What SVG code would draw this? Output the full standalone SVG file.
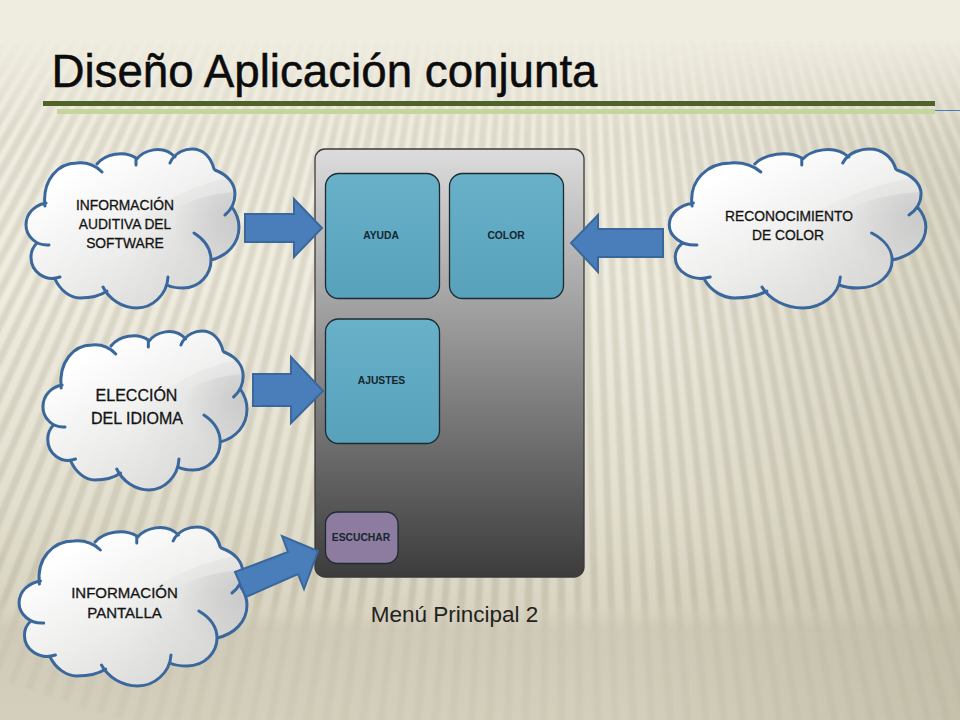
<svg xmlns="http://www.w3.org/2000/svg" width="960" height="720" viewBox="0 0 960 720">
<style>
text{font-family:"Liberation Sans",Arial,sans-serif;text-anchor:middle}
.ct{fill:#141414;font-size:13.800px;stroke:#141414;stroke-width:.3}
.bt{fill:#14262e;font-size:10.300px;font-weight:bold}
.btn{stroke:#1c2c33;stroke-width:1.3}
.arr{fill:#4a7ebb;stroke:#3a679c;stroke-width:2;stroke-linejoin:miter}
.co{fill:none;stroke:#3a679c;stroke-width:3;stroke-linecap:round;vector-effect:non-scaling-stroke}
</style>
<defs>
<linearGradient id="bg" gradientUnits="userSpaceOnUse" x1="0" y1="0" x2="0" y2="720">
<stop offset="0" stop-color="#efece0"/><stop offset=".4" stop-color="#efece0"/><stop offset=".7" stop-color="#e3dfcf"/><stop offset=".85" stop-color="#d8d4c1"/><stop offset=".875" stop-color="#d0cbb8"/><stop offset="1" stop-color="#d3cfbc"/>
</linearGradient>
<linearGradient id="side" x1="0" y1="0" x2="1" y2="0">
<stop offset="0" stop-color="#a8a288" stop-opacity="0"/><stop offset="1" stop-color="#a8a288" stop-opacity=".3"/>
</linearGradient>
<linearGradient id="fadeTop" x1="0" y1="0" x2="0" y2="1">
<stop offset="0" stop-color="#fff" stop-opacity="0"/><stop offset=".2" stop-color="#fff" stop-opacity="1"/>
</linearGradient>
<mask id="sideMask" maskUnits="userSpaceOnUse" x="0" y="40" width="960" height="680"><rect x="0" y="40" width="960" height="680" fill="url(#fadeTop)"/></mask>
<filter id="soft" filterUnits="userSpaceOnUse" x="0" y="0" width="960" height="720"><feGaussianBlur stdDeviation="1"/></filter>
<linearGradient id="stripe" gradientUnits="userSpaceOnUse" x1="0" y1="40" x2="0" y2="720">
<stop offset="0" stop-color="#8a8468" stop-opacity="0"/><stop offset=".14" stop-color="#8a8468" stop-opacity=".18"/><stop offset=".82" stop-color="#8a8468" stop-opacity=".2"/><stop offset=".87" stop-color="#8a8468" stop-opacity=".06"/><stop offset="1" stop-color="#8a8468" stop-opacity=".07"/>
</linearGradient>
<linearGradient id="panel" x1="0" y1="0" x2="0" y2="1">
<stop offset="0" stop-color="#dcdcdc"/><stop offset="1" stop-color="#3c3c3c"/>
</linearGradient>
<linearGradient id="teal" x1="0" y1="0" x2="0" y2="1">
<stop offset="0" stop-color="#69b1c9"/><stop offset="1" stop-color="#57a1bb"/>
</linearGradient>
<linearGradient id="cfill" x1="0" y1="0" x2=".8" y2="1">
<stop offset=".2" stop-color="#ffffff"/><stop offset=".6" stop-color="#eeeeee" stop-opacity=".95"/><stop offset="1" stop-color="#d6d6d6" stop-opacity=".92"/>
</linearGradient>
<radialGradient id="gloss" gradientUnits="userSpaceOnUse" cx="232" cy="215" r="60">
<stop offset="0" stop-color="#bdbdbd" stop-opacity=".55"/><stop offset="1" stop-color="#bdbdbd" stop-opacity="0"/>
</radialGradient>
<radialGradient id="gloss2" gradientUnits="userSpaceOnUse" cx="235" cy="225" r="115">
<stop offset="0" stop-color="#c8c8c8" stop-opacity=".35"/><stop offset="1" stop-color="#c8c8c8" stop-opacity="0"/>
</radialGradient>
<clipPath id="cclip"><path d="M45 206C42 180 58 163 77 163C87 162 96 166 102 172L97 164C105 154 124 150 136 158L136 160C143 150 163 144 175 157L170 163C175 151 187 149 192 149C203 149 211 157 214 169L215 170C228 175 235 184 235 194C235 203 231 210 225 215L232 207C237 214 239 220 239 227C239 244 227 256 211 260L194 233C205 240 211 250 211 260C211 274 200 288 183 288C177 288 171 287 167 285L168 277C167 295 152 308 137 308C122 308 109 299 103 287L107 291C100 296 90 298 80 298C70 298 60 290 55 279L60 277C45 282 31 272 31 257C31 251 33 247 37 243L49 245C36 246 26 236 26 225C26 213 35 205 46 203Z"/></clipPath>
<g id="cloud">
<path fill="url(#cfill)" d="M45 206C42 180 58 163 77 163C87 162 96 166 102 172L97 164C105 154 124 150 136 158L136 160C143 150 163 144 175 157L170 163C175 151 187 149 192 149C203 149 211 157 214 169L215 170C228 175 235 184 235 194C235 203 231 210 225 215L232 207C237 214 239 220 239 227C239 244 227 256 211 260L194 233C205 240 211 250 211 260C211 274 200 288 183 288C177 288 171 287 167 285L168 277C167 295 152 308 137 308C122 308 109 299 103 287L107 291C100 296 90 298 80 298C70 298 60 290 55 279L60 277C45 282 31 272 31 257C31 251 33 247 37 243L49 245C36 246 26 236 26 225C26 213 35 205 46 203Z"/>
<g clip-path="url(#cclip)">
<path fill="url(#gloss2)" d="M110 240C150 205 200 180 242 176V310H110Z"/>
<path fill="url(#gloss)" d="M150 230C175 200 215 192 242 192V300H150Z"/>
</g>
<path class="co" d="M45 206C42 180 58 163 77 163C87 162 96 166 102 172M97 164C105 154 124 150 136 158V165M136 160C143 150 163 144 175 157M170 163C175 151 187 149 192 149C203 149 211 157 214 169M215 170C228 175 235 184 235 194C235 203 231 210 225 215M232 207C237 214 239 220 239 227C239 244 227 256 211 260M194 233C205 240 211 250 211 260C211 274 200 288 183 288C177 288 171 287 167 285M168 277C167 295 152 308 137 308C122 308 109 299 103 287M107 291C100 296 90 298 80 298C70 298 60 290 55 279M60 277C45 282 31 272 31 257C31 251 33 247 37 243M49 245C36 246 26 236 26 225C26 213 35 205 46 203"/>
</g>
</defs>

<g id="background">
<rect width="960" height="720" fill="url(#bg)"/>
<g mask="url(#sideMask)"><rect x="640" y="40" width="320" height="680" fill="url(#side)"/></g>
<clipPath id="below"><rect x="0" y="40" width="960" height="680"/></clipPath>
<g clip-path="url(#below)">
<circle cx="560" cy="-820" r="1200" fill="none" stroke="url(#stripe)" stroke-width="800" stroke-dasharray="7 7.03" filter="url(#soft)"/>
</g>
</g>

<g id="title">
<text x="324.500" y="87" font-size="45.700" fill="#0c0c0c" stroke="#0c0c0c" stroke-width=".5">Diseño Aplicación conjunta</text>
<rect x="43" y="101" width="892" height="5" fill="#4f6228"/>
<rect x="57" y="109" width="878" height="5" fill="#c3d69b"/>
<rect x="935" y="110" width="25" height="1" fill="#4a7ebb"/>
</g>

<g id="panel-menu">
<rect x="315" y="149" width="269" height="428" rx="10" fill="url(#panel)" stroke="#3a3a3a" stroke-width="1.3"/>
</g>
<g id="btn-ayuda">
<rect class="btn" x="325.500" y="173.500" width="114" height="125" rx="13" fill="url(#teal)"/>
<text class="bt" x="381" y="238.500">AYUDA</text>
</g>
<g id="btn-color">
<rect class="btn" x="449.500" y="173.500" width="114" height="125" rx="13" fill="url(#teal)"/>
<text class="bt" x="506" y="238.500">COLOR</text>
</g>
<g id="btn-ajustes">
<rect class="btn" x="325.500" y="319" width="114" height="124.500" rx="13" fill="url(#teal)"/>
<text class="bt" x="381.500" y="384">AJUSTES</text>
</g>
<g id="btn-escuchar">
<rect class="btn" x="325.500" y="512" width="72.500" height="51.500" rx="12" fill="#8d7ca0"/>
<text class="bt" x="361" y="540.500">ESCUCHAR</text>
</g>

<g id="cloud-auditiva">
<use href="#cloud"/>
<text class="ct" x="125" y="210">INFORMACIÓN</text>
<text class="ct" x="125" y="229">AUDITIVA DEL</text>
<text class="ct" x="125" y="248">SOFTWARE</text>
</g>
<g id="cloud-idioma">
<use href="#cloud" transform="translate(18.050 182) scale(.958 1)"/>
<text class="ct" x="136.500" y="400.500" style="font-size:16px">ELECCIÓN</text>
<text class="ct" x="137" y="423.500" style="font-size:16px">DEL IDIOMA</text>
</g>
<g id="cloud-pantalla">
<use href="#cloud" transform="translate(-8.750 378) scale(1.070 1)"/>
<text class="ct" x="124.500" y="597.500" style="font-size:15px">INFORMACIÓN</text>
<text class="ct" x="124.500" y="618" style="font-size:15px">PANTALLA</text>
</g>
<g id="cloud-color">
<use href="#cloud" transform="translate(637.900 0) scale(1.205 1)"/>
<text class="ct" x="789" y="220.500">RECONOCIMIENTO</text>
<text class="ct" x="788" y="240">DE COLOR</text>
</g>

<g id="connectors">
<polygon class="arr" points="245,214 294,214 294,199 322,228 294,257 294,242 245,242"/>
<polygon class="arr" points="253,374 291,374 291,357 323,391 291,423 291,406 253,406"/>
<polygon class="arr" points="663,229 598,229 598,215 571,243 598,272 598,257 663,257"/>
<polygon class="arr" points="235,572 288,552 282,536 318,551 304,589 298,574 246,597"/>
</g>

<text id="caption" x="454.500" y="622" font-size="22.500" fill="#222222">Menú Principal 2</text>
</svg>
